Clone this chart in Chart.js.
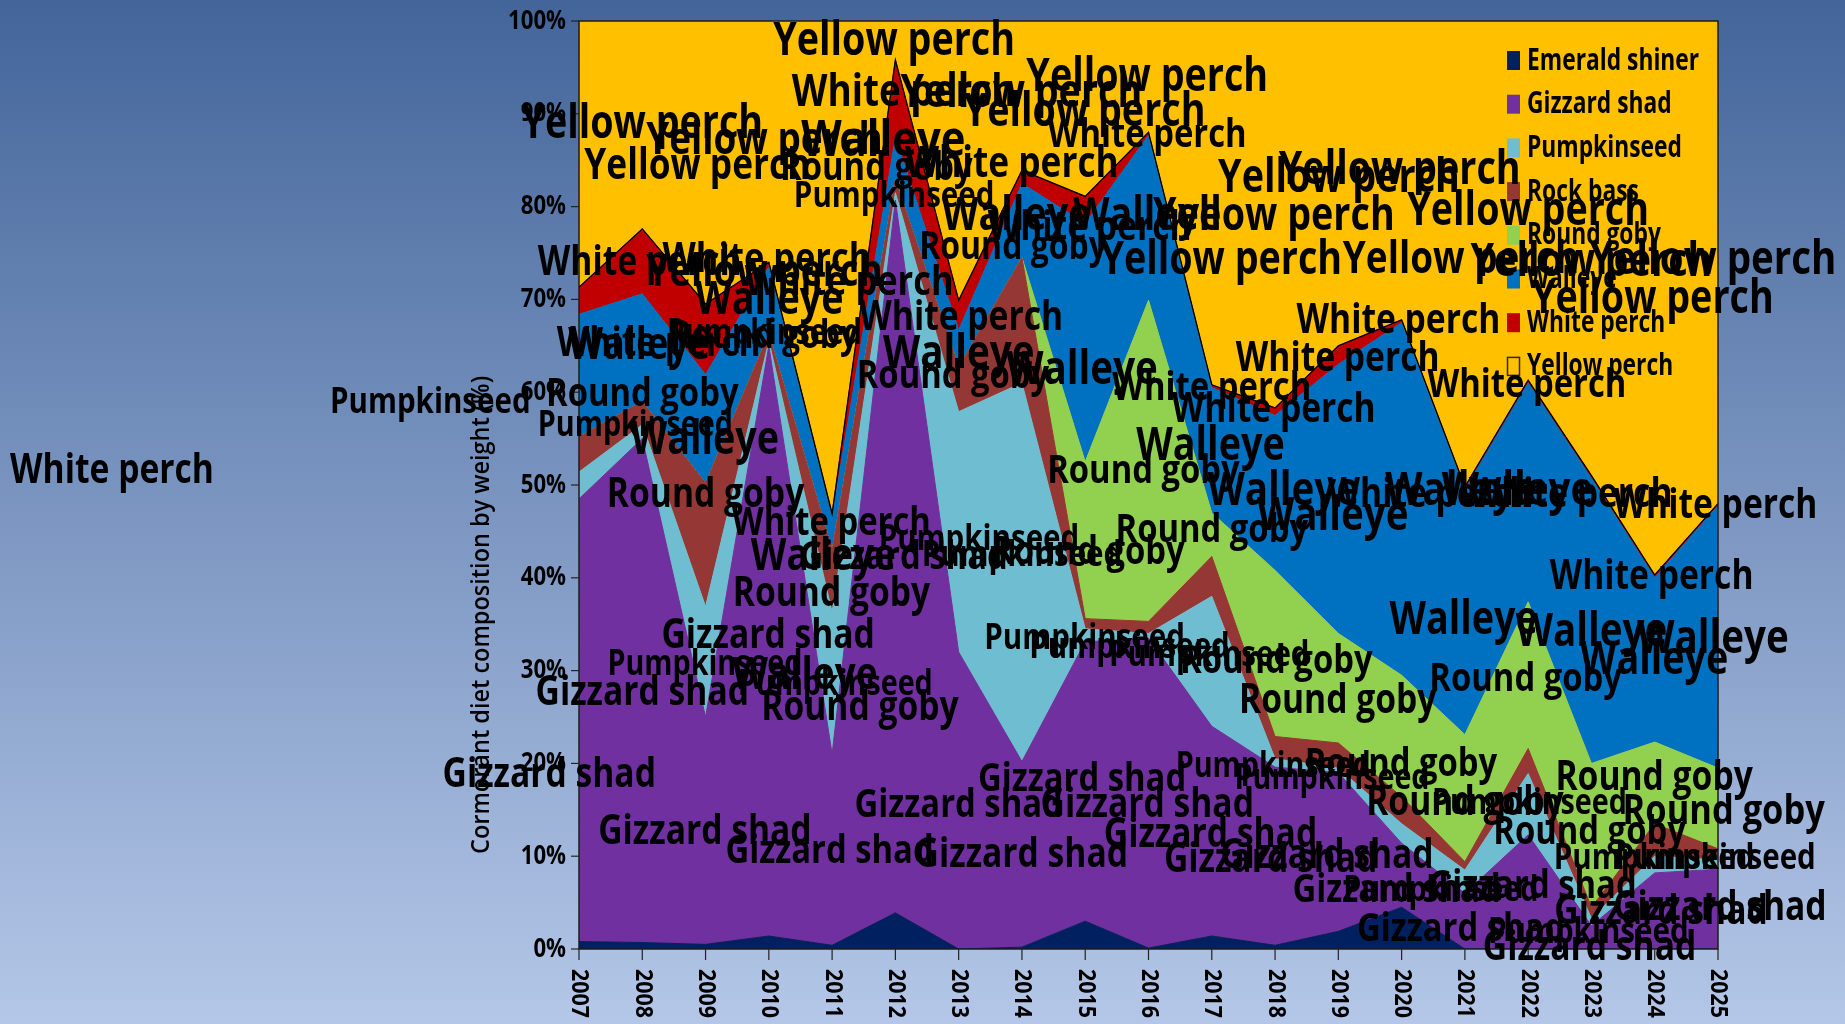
<!DOCTYPE html>
<html>
<head>
<meta charset="utf-8">
<script src="https://cdn.jsdelivr.net/npm/chart.js@4.4.1/dist/chart.umd.min.js"></script>
<style>
  html, body { margin: 0; padding: 0; overflow: hidden; background: #b4c7e7; }
  canvas { display: block; }
</style>
</head>
<body>
<canvas id="dietChart" width="1845" height="1024"></canvas>
<script>
// cormorant diet composition by weight, % per year
const years = ['2007', '2008', '2009', '2010', '2011', '2012', '2013', '2014', '2015', '2016',
               '2017', '2018', '2019', '2020', '2021', '2022', '2023', '2024', '2025'];

const emeraldShiner = [0.8, 0.7, 0.5, 1.4, 0.4, 3.9, 0.0, 0.2, 3.0, 0.1, 1.4, 0.4, 1.9, 4.5, 0.0, 0.0, 0.0, 0.0, 0.0];
const gizzardShad   = [47.7, 54.3, 24.5, 63.6, 20.6, 76.8, 32.0, 20.0, 30.1, 33.4, 22.6, 19.2, 17.1, 6.9, 6.0, 12.3, 2.5, 8.2, 8.6];
const pumpkinseed   = [2.9, 1.5, 11.9, 0.5, 15.3, 0.8, 25.9, 40.8, 1.4, 0.5, 14.0, 0.9, 0.5, 2.1, 2.5, 6.6, 0.8, 1.8, 1.0];
const rockBass      = [3.8, 2.5, 13.3, 0.8, 6.7, 1.4, 4.8, 13.5, 1.1, 1.3, 4.3, 2.4, 2.7, 2.9, 0.9, 2.7, 1.2, 3.5, 1.2];
const roundGoby     = [0, 0, 0, 0, 0, 0, 0, 0, 16.9, 34.6, 4.7, 17.9, 11.8, 13.1, 13.7, 15.8, 15.5, 8.8, 8.7];
const walleye       = [13.2, 11.6, 11.7, 7.2, 3.5, 4.6, 4.0, 8.0, 25.7, 17.8, 13.5, 16.7, 29.0, 38.0, 26.4, 23.6, 30.7, 17.7, 28.3];
const whitePerch    = [2.9, 7.0, 7.6, 0.5, 0.4, 8.3, 3.2, 1.4, 2.9, 0.3, 0.3, 0.8, 2.0, 0.3, 0.3, 0.3, 0.3, 0.3, 0.2];
const yellowPerch   = [28.7, 22.4, 30.5, 26.0, 53.1, 4.2, 30.1, 16.1, 18.9, 12.0, 39.2, 41.7, 35.0, 32.2, 50.2, 38.7, 49.0, 59.7, 52.0];

const seriesNames = ['Emerald shiner', 'Gizzard shad', 'Pumpkinseed', 'Rock bass',
                     'Round goby', 'Walleye', 'White perch', 'Yellow perch'];
const seriesValues = [emeraldShiner, gizzardShad, pumpkinseed, rockBass,
                      roundGoby, walleye, whitePerch, yellowPerch];
const seriesColors = ['#002060', '#7030a0', '#6fbdd1', '#953735',
                      '#92d050', '#0070c0', '#c00000', '#ffc000'];

const yTicks = [0, 10, 20, 30, 40, 50, 60, 70, 80, 90, 100];

// category labels scattered over the plot: [name, year position, percent, text width]
const labelSpots = [
  ['Yellow perch', 4.98, 97.7, 241], ['White perch', 5.13, 92.2, 226], ['Yellow perch', 6.99, 92.1, 242],
  ['Yellow perch', 8.98, 93.9, 244], ['Yellow perch', 7.99, 90.1, 240], ['White perch', 8.98, 87.7, 201],
  ['Yellow perch', 1.00, 88.8, 241], ['Yellow perch', 2.93, 87.0, 235], ['Walleye', 4.81, 87.0, 166],
  ['Yellow perch', 1.87, 84.3, 227], ['Round goby', 4.70, 84.1, 194], ['White perch', 6.84, 84.5, 214],
  ['Pumpkinseed', 4.98, 81.1, 198], ['Walleye', 6.91, 78.9, 148], ['Walleye', 8.98, 78.9, 148],
  ['White perch', 8.07, 77.7, 202], ['Round goby', 6.86, 75.6, 188], ['Yellow perch', 10.98, 78.9, 242],
  ['Yellow perch', 12.01, 83.0, 242], ['Yellow perch', 12.97, 83.9, 240], ['Yellow perch', 15.0, 79.4, 242],
  ['Yellow perch', 10.15, 74.2, 242], ['Yellow perch', 13.94, 74.2, 238], ['Yellow perch', 16.0, 73.9, 242],
  ['Yellow perch', 17.92, 74.2, 246], ['Yellow perch', 16.97, 69.9, 244], ['White perch', 12.95, 67.6, 205],
  ['White perch', 11.99, 63.5, 205], ['White perch', 14.98, 60.7, 199], ['White perch', 10.0, 60.4, 200],
  ['White perch', 10.98, 58.1, 202], ['Walleye', 9.98, 54.1, 147], ['Round goby', 8.92, 51.4, 192],
  ['Walleye', 11.13, 49.3, 151], ['Walleye', 11.91, 46.6, 151], ['White perch', 13.44, 48.9, 202],
  ['Walleye', 14.83, 49.3, 151], ['White perch', 15.67, 48.9, 202], ['Walleye', 13.94, 49.3, 151],
  ['White perch', 17.96, 47.7, 205], ['Round goby', 10.0, 45.1, 195], ['Round goby', 8.05, 42.7, 195],
  ['White perch', 16.95, 40.0, 202], ['Walleye', 13.98, 35.4, 147], ['Walleye', 16.0, 34.1, 151],
  ['Walleye', 17.92, 33.3, 153], ['Walleye', 16.99, 31.0, 147], ['Round goby', 14.96, 29.0, 195],
  ['Round goby', 11.02, 31.0, 194], ['Round goby', 11.99, 26.7, 199], ['Pumpkinseed', 9.96, 31.6, 200],
  ['Pumpkinseed', 7.99, 33.4, 198], ['Pumpkinseed', 8.70, 32.5, 200], ['Round goby', 12.99, 19.9, 195],
  ['Pumpkinseed', 10.97, 19.6, 194], ['Pumpkinseed', 11.9, 18.3, 194], ['Round goby', 16.99, 18.4, 199],
  ['Round goby', 14.0, 15.7, 198], ['Pumpkinseed', 15.02, 15.6, 196], ['Round goby', 18.09, 14.8, 200],
  ['Round goby', 15.97, 12.5, 195], ['Pumpkinseed', 16.99, 9.7, 198], ['Pumpkinseed', 17.96, 9.7, 198],
  ['Gizzard shad', 15.07, 6.7, 209], ['Gizzard shad', 17.1, 4.0, 212], ['Gizzard shad', 18.03, 4.4, 212],
  ['Gizzard shad', 13.94, 2.1, 209], ['Gizzard shad', 15.97, 0.1, 212], ['Pumpkinseed', 15.95, 1.8, 198],
  ['Gizzard shad', 12.92, 6.3, 209], ['Pumpkinseed', 13.62, 6.3, 194], ['Gizzard shad', 7.95, 18.2, 208],
  ['Gizzard shad', 6.0, 15.5, 209], ['Gizzard shad', 8.98, 15.5, 212], ['Gizzard shad', 6.99, 10.1, 212],
  ['Gizzard shad', 9.98, 12.3, 212], ['Gizzard shad', 10.93, 9.6, 212], ['Gizzard shad', 11.82, 10.0, 212],
  ['Round goby', 2.0, 48.9, 198], ['White perch', 3.99, 45.8, 200], ['Walleye', 3.86, 42.2, 144],
  ['Gizzard shad', 5.13, 42.2, 206], ['Pumpkinseed', 6.32, 44.1, 198], ['Pumpkinseed', 7.0, 42.4, 198],
  ['Round goby', 3.99, 38.2, 199], ['Gizzard shad', 2.99, 33.7, 213], ['Pumpkinseed', 1.99, 30.6, 196],
  ['Gizzard shad', 1.00, 27.6, 212], ['Walleye', 3.57, 29.4, 145], ['Pumpkinseed', 4.05, 28.4, 194],
  ['Round goby', 4.44, 25.9, 199], ['Gizzard shad', -0.47, 18.7, 212], ['Gizzard shad', 1.99, 12.6, 214],
  ['Gizzard shad', 3.96, 10.5, 208], ['White perch', 0.96, 73.9, 202], ['Yellow perch', 2.93, 72.8, 235],
  ['White perch', 2.97, 74.2, 207], ['White perch', 4.27, 71.8, 207], ['Walleye', 3.01, 69.8, 148],
  ['White perch', 6.04, 68.0, 202], ['Walleye', 0.95, 64.9, 142], ['Round goby', 2.93, 66.0, 189],
  ['Pumpkinseed', 2.93, 66.3, 194], ['White perch', 1.26, 65.2, 202], ['Walleye', 6.0, 64.0, 151],
  ['Round goby', 5.91, 61.7, 192], ['Walleye', 7.95, 62.3, 151], ['Round goby', 1.00, 59.7, 195],
  ['Pumpkinseed', 0.89, 56.4, 195], ['Walleye', 1.99, 54.8, 147], ['White perch', -7.38, 51.5, 205],
  ['Pumpkinseed', -2.35, 58.9, 198]
];

const FONT = '"Open Sans", "Noto Sans", sans-serif';

// narrow text: draw with a horizontal squeeze
function squeezedText(ctx, text, x, y, font, sx, align, angle) {
  ctx.save();
  ctx.font = font;
  ctx.translate(x, y);
  if (angle) ctx.rotate(angle);
  ctx.scale(sx, 1);
  ctx.textAlign = align;
  ctx.textBaseline = 'middle';
  ctx.fillStyle = '#000';
  ctx.fillText(text, 0, 0);
  ctx.restore();
}

const decorPlugin = {
  id: 'decor',
  beforeDraw(chart) {
    const ctx = chart.ctx;
    const area = chart.chartArea;
    const g = ctx.createLinearGradient(0, 0, 0, chart.height);
    g.addColorStop(0, '#43659a');
    g.addColorStop(1, '#b4c7e8');
    ctx.save();
    ctx.fillStyle = g;
    ctx.fillRect(0, 0, chart.width, chart.height);
    ctx.fillStyle = '#ffc000';
    ctx.fillRect(area.left, area.top, area.right - area.left, area.bottom - area.top);
    ctx.restore();
  },
  afterDatasetsDraw(chart) {
    const ctx = chart.ctx;
    const area = chart.chartArea;
    const xs = chart.scales.x;
    const ys = chart.scales.y;

    // outline along the top of the white perch band
    const wp = chart.getDatasetMeta(6).data;
    ctx.save();
    ctx.strokeStyle = '#000';
    ctx.lineWidth = 1.3;
    ctx.beginPath();
    wp.forEach((p, i) => (i ? ctx.lineTo(p.x, p.y) : ctx.moveTo(p.x, p.y)));
    ctx.stroke();

    // plot frame
    ctx.strokeStyle = '#1c1c1c';
    ctx.lineWidth = 1.5;
    ctx.strokeRect(area.left, area.top, area.right - area.left, area.bottom - area.top);

    // y ticks
    ctx.lineWidth = 1.2;
    ctx.strokeStyle = '#222';
    yTicks.forEach(v => {
      const y = ys.getPixelForValue(v);
      ctx.beginPath();
      ctx.moveTo(area.left - 8, y);
      ctx.lineTo(area.left, y);
      ctx.stroke();
      squeezedText(ctx, v + '%', area.left - 13, y, 'bold 27px ' + FONT, 0.82, 'right');
    });

    // x ticks, labels turned to read downwards
    years.forEach((yr, i) => {
      const x = xs.getPixelForValue(i);
      ctx.beginPath();
      ctx.moveTo(x, area.bottom);
      ctx.lineTo(x, area.bottom + 11);
      ctx.stroke();
      squeezedText(ctx, yr, x, area.bottom + 20, 'bold 23px ' + FONT, 0.93, 'left', Math.PI / 2);
    });
    ctx.restore();

    // axis title
    const title = 'Cormorant diet composition by weight (%)';
    ctx.save();
    ctx.font = '600 26px ' + FONT;
    const tw = ctx.measureText(title).width;
    ctx.restore();
    squeezedText(ctx, title, area.left - 97, ys.getPixelForValue(36), '600 26px ' + FONT, 478 / tw, 'center', -Math.PI / 2);

    // legend
    const lx = area.left + 928;
    seriesNames.forEach((name, i) => {
      const top = area.top + 30 + i * 43.7;
      ctx.save();
      if (i === seriesNames.length - 1) {
        ctx.strokeStyle = '#2a2a10';
        ctx.lineWidth = 1.5;
        ctx.strokeRect(lx + 0.5, top + 0.5, 12, 18);
      } else {
        ctx.fillStyle = seriesColors[i];
        ctx.fillRect(lx, top, 13, 19);
      }
      ctx.restore();
      squeezedText(ctx, name, lx + 20, top + 10, 'bold 30px ' + FONT, 0.76, 'left');
    });

    // scattered category labels
    labelSpots.forEach(([name, pos, pct, w]) => {
      ctx.save();
      ctx.font = 'bold 100px ' + FONT;
      const m = ctx.measureText(name).width * 0.82;
      ctx.restore();
      const size = Math.round(100 * w / m);
      squeezedText(ctx, name, xs.getPixelForValue(pos), ys.getPixelForValue(pct),
        'bold ' + size + 'px ' + FONT, 0.82, 'center');
    });
  }
};

const datasets = seriesNames.map((name, i) => ({
  label: name,
  data: seriesValues[i],
  backgroundColor: seriesColors[i],
  borderColor: i === seriesNames.length - 1 ? 'rgba(0,0,0,0)' : seriesColors[i],
  borderWidth: 1,
  fill: i === 0 ? 'origin' : (i === seriesNames.length - 1 ? false : '-1'),
  pointRadius: 0,
  tension: 0
}));

const dietChart = new Chart(document.getElementById('dietChart'), {
  type: 'line',
  data: { labels: years, datasets: datasets },
  options: {
    responsive: false,
    animation: false,
    layout: { padding: { left: 579, top: 21, right: 127, bottom: 75 } },
    plugins: {
      legend: { display: false },
      tooltip: { enabled: false }
    },
    scales: {
      x: { display: false },
      y: { display: false, stacked: true, min: 0, max: 100 }
    }
  },
  plugins: [decorPlugin]
});
</script>
</body>
</html>
